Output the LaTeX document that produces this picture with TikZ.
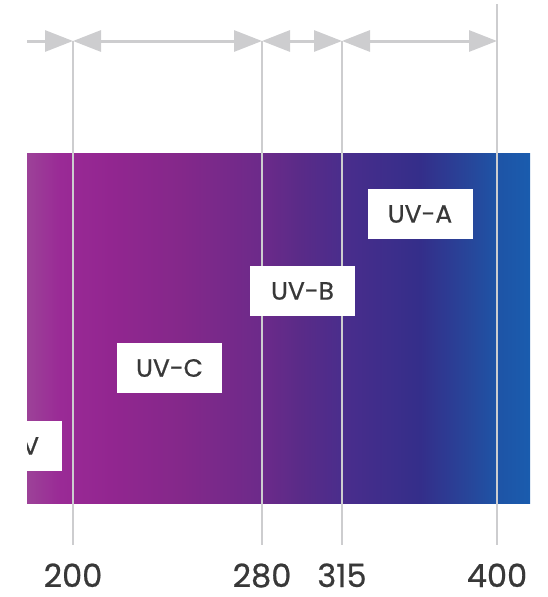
\documentclass[tikz,border=0pt]{standalone}
\usepackage{fontspec}
\setmainfont{Poppins}[FakeBold=0.6]
\usetikzlibrary{arrows.meta}

\definecolor{rulegray}{HTML}{CDCDCF}
\definecolor{labelgray}{HTML}{383838}
\definecolor{uva}{HTML}{9C4298}
\definecolor{uvb}{HTML}{9A2A96}
\definecolor{uvc}{HTML}{922690}
\definecolor{uvd}{HTML}{84288A}
\definecolor{uve}{HTML}{6C2A8A}
\definecolor{uvf}{HTML}{5A2B88}
\definecolor{uvg}{HTML}{4A2D8C}
\definecolor{uvh}{HTML}{342E8A}
\definecolor{uvi}{HTML}{27469A}
\definecolor{uvj}{HTML}{1E54A6}
\definecolor{uvk}{HTML}{1A5CAE}

\pgfdeclarehorizontalshading{uvband}{100bp}{color(0bp)=(uva); color(25bp)=(uva);
  color(28.3bp)=(uvb); color(33.3bp)=(uvc); color(40.2bp)=(uvd); color(48.4bp)=(uve);
  color(52.1bp)=(uvf); color(56.3bp)=(uvg); color(64.1bp)=(uvh); color(69bp)=(uvi);
  color(71.7bp)=(uvj); color(75bp)=(uvk); color(100bp)=(uvk)}

\begin{document}
\begin{tikzpicture}[x=1pt, y=-1pt,
    bandlabel/.style={rectangle, fill=white, minimum width=105pt, minimum height=50pt,
      inner sep=0pt, text=labelgray, font=\fontsize{25}{30}\selectfont},
    nmlabel/.style={anchor=base, inner sep=0pt, text depth=0pt, text=labelgray,
      font=\fontsize{32}{34}\selectfont},
    marker/.style={draw=rulegray, line width=2.5pt},
    spanarrow/.style={draw=rulegray, line width=3pt,
      {Triangle[length=28pt,width=21pt]}-{Triangle[length=28pt,width=21pt]}},
    leadarrow/.style={draw=rulegray, line width=3pt, -{Triangle[length=28pt,width=21pt]}}]
  \useasboundingbox (0,0) rectangle (548,597);
  \clip (27,0) rectangle (548,597);

  % Colour band
  \shade[shading=uvband] (27,153) rectangle (530,503);

  % Wavelength markers (nm)
  \coordinate (a0) at (27,41);
  \coordinate (a200) at (73,41);
  \coordinate (a280) at (262,41);
  \coordinate (a315) at (342,41);
  \coordinate (a400) at (497,41);
  \coordinate (top400) at (497,4);
  \coordinate (b200) at (73,545);
  \coordinate (b280) at (262,545);
  \coordinate (b315) at (342,545);
  \coordinate (b400) at (497,545);

  \draw[marker] (a200) -- (b200);
  \draw[marker] (a280) -- (b280);
  \draw[marker] (a315) -- (b315);
  \draw[marker] (top400) -- (b400);

  % Range arrows
  \draw[leadarrow] (a0) -- (a200);
  \draw[spanarrow] (a200) -- (a280);
  \draw[spanarrow] (a280) -- (a315);
  \draw[spanarrow] (a315) -- (a400);

  % Range labels
  \node[bandlabel, text width=59pt, align=right, inner xsep=23pt] (vuv) at (9.5,446) {UV};
  \node[bandlabel] (uvC) at (169.5,368) {UV-C};
  \node[bandlabel] (uvB) at (302.5,291) {UV-B};
  \node[bandlabel] (uvA) at (420,214) {UV-A};

  % Scale numbers
  \node[nmlabel] (n200) at (73,587) {200};
  \node[nmlabel] (n280) at (262,587) {280};
  \node[nmlabel] (n315) at (342,587) {315};
  \node[nmlabel] (n400) at (497,587) {400};
\end{tikzpicture}
\end{document}
